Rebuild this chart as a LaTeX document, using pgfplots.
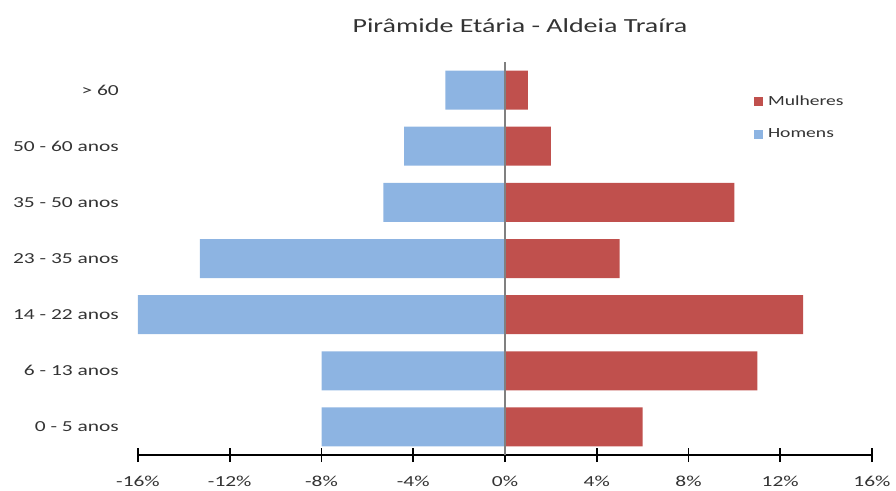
\documentclass[border=0pt]{standalone}
\usepackage{fontspec}
\setmainfont{Carlito}[FakeStretch=1.4]
\usepackage{pgfplots}
\pgfplotsset{compat=1.18}
\definecolor{mulheres}{HTML}{C0504D}
\definecolor{homens}{HTML}{8DB4E2}
\definecolor{txt}{HTML}{333333}

\begin{document}
\begin{tikzpicture}
\useasboundingbox (-138pt,-35pt) rectangle (758pt,455pt);
\begin{axis}[
  at={(0pt,0pt)}, anchor=south west,
  scale only axis, width=734pt, height=393pt,
  xmin=-16, xmax=16, ymin=-0.5, ymax=6.5,
  axis x line=bottom, axis y line=left,
  x axis line style={-, black, line width=1.6pt},
  y axis line style={draw=none},
  xtick={-16,-12,...,16},
  xticklabels={-16\%,-12\%,-8\%,-4\%,0\%,4\%,8\%,12\%,16\%},
  ytick={0,...,6},
  yticklabels={0 - 5 anos,6 - 13 anos,14 - 22 anos,23 - 35 anos,35 - 50 anos,50 - 60 anos,> 60},
  tick align=center, major tick length=14pt,
  xtick style={black, line width=1.6pt},
  ytick style={draw=none},
  tick label style={font=\fontsize{15.3}{18}\selectfont, text=txt},
  x tick label style={anchor=center, yshift=-19pt},
  y tick label style={anchor=east, inner sep=0pt, xshift=-12pt},
  title={Pirâmide Etária - Aldeia Traíra},
  title style={font=\fontsize{20}{24}\selectfont, text=txt, at={(0.5,1)}, anchor=center, yshift=30pt, xshift=15pt},
  legend style={draw=none, fill=none, at={(0.839,0.92)}, anchor=north west,
    font=\fontsize{14}{16}\selectfont, text=txt, row sep=18pt, inner sep=0pt},
  legend cell align=left,
  legend image code/.code={\fill[#1] (0pt,-4.5pt) rectangle (9pt,4.5pt);},
]
% women to the right of zero, men to the left
\addplot[xbar, bar width=39pt, bar shift=0pt, fill=mulheres, draw=none]
  coordinates {(6,0) (11,1) (13,2) (5,3) (10,4) (2,5) (1,6)};
\addplot[xbar, bar width=39pt, bar shift=0pt, fill=homens, draw=none]
  coordinates {(-8,0) (-8,1) (-16,2) (-13.3,3) (-5.3,4) (-4.4,5) (-2.6,6)};
% zero line over the bars
\addplot[sharp plot, color=gray, line width=1.3pt, forget plot]
  coordinates {(0,-0.5) (0,6.5)};
\legend{\hspace{3pt}Mulheres, \hspace{3pt}Homens}
\end{axis}
\end{tikzpicture}
\end{document}
